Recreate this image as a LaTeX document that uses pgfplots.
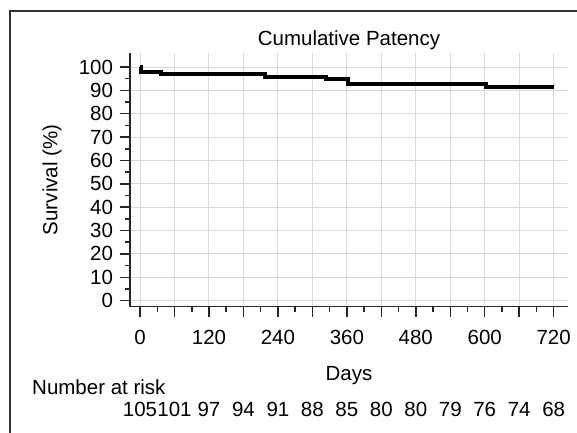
\documentclass[border=0pt]{standalone}
\usepackage{fontspec}
\setmainfont{Liberation Sans}
\usepackage{pgfplots}
\pgfplotsset{compat=1.18}
\begin{document}
\fontsize{20.5}{24}\selectfont
\begin{tikzpicture}
\useasboundingbox (0,0) rectangle (577pt,432pt);
% outer frame, cut off at the right and bottom like the reference
\draw[line width=1.5pt, black!80] (10pt,-30pt) -- (10pt,421pt) -- (600pt,421pt);
\begin{axis}[
  at={(130pt,125.3pt)}, anchor=south west,
  scale only axis, width=438pt, height=253.7pt,
  xmin=-17.5, xmax=745, ymin=-2.6, ymax=106,
  axis x line*=bottom, axis y line*=left,
  axis line style={line width=1.5pt, black!85},
  xtick={0,60,...,720},
  xticklabels={0,,120,,240,,360,,480,,600,,720},
  ytick={0,10,...,100},
  minor x tick num=1, minor y tick num=1,
  tick align=outside,
  major tick length=10pt, minor tick length=5pt,
  tick style={line width=1.5pt, black!85},
  xticklabel style={yshift=-6pt},
  grid=major,
  major grid style={line width=1pt, gray!30},
  /pgf/number format/assume math mode=true,
  clip=false,
  title={Cumulative Patency},
  xlabel={Days},
  ylabel={Survival (\%)},
  every axis title shift=0pt,
  title style={at={(axis description cs:0.5,1.028)}, anchor=base},
  xlabel style={at={(axis description cs:0.5,-0.29)}, anchor=base},
  ylabel style={at={(axis description cs:-0.178,0.5)}, anchor=center},
]
% Kaplan-Meier step curve
\addplot[const plot, line width=4pt, black] coordinates {
  (0,100) (2,97.8) (37,96.9) (217,95.9) (324,94.8) (362,92.8) (603,91.5) (720,91.5)
};
% number at risk row
\addplot[draw=none, mark=none, nodes near coords, point meta=explicit symbolic,
  nodes near coords style={anchor=base, inner sep=0pt, black}]
  table[meta=n] {
  x y n
  0 -49.8 105
  60 -49.8 101
  120 -49.8 97
  180 -49.8 94
  240 -49.8 91
  300 -49.8 88
  360 -49.8 85
  420 -49.8 80
  480 -49.8 80
  540 -49.8 79
  600 -49.8 76
  660 -49.8 74
  720 -49.8 68
};
\end{axis}
\node[anchor=base west, inner sep=0pt] at (32pt,38pt) {Number at risk};
\end{tikzpicture}
\end{document}
